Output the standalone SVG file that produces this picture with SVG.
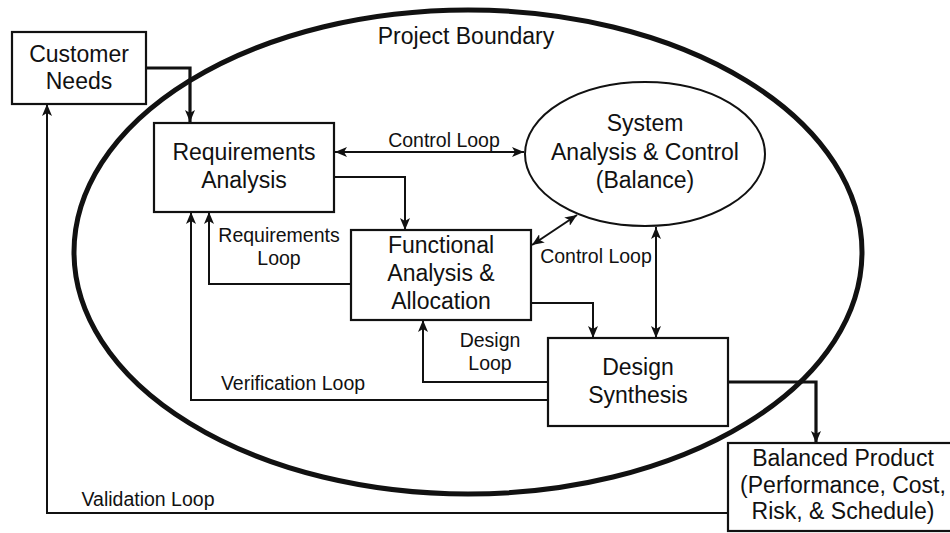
<svg xmlns="http://www.w3.org/2000/svg" width="950" height="533" viewBox="0 0 950 533">
  <style>
    .box { fill: #fff; stroke: #111; stroke-width: 2.2; }
    .t { font-family: "Liberation Sans", Arial, sans-serif; font-size: 23px; fill: #111; text-anchor: middle; }
    .lbl { font-family: "Liberation Sans", Arial, sans-serif; font-size: 19.5px; fill: #111; text-anchor: middle; }
    .ln { fill: none; stroke: #111; stroke-width: 2; }
    .thick { fill: none; stroke: #111; stroke-width: 3.2; }
  </style>
  <defs>
    <marker id="ah" markerUnits="userSpaceOnUse" markerWidth="12" markerHeight="10" refX="12" refY="5" orient="auto-start-reverse">
      <path d="M0,0 L12,5 L0,10 L3,5 z" fill="#111"/>
    </marker>
  </defs>

  <rect width="950" height="533" fill="#fff"/>

  <!-- project boundary -->
  <g id="boundary">
    <ellipse cx="468" cy="252" rx="394" ry="242" fill="none" stroke="#111" stroke-width="5"/>
    <text class="t" x="466" y="44">Project Boundary</text>
  </g>

  <!-- connectors -->
  <g id="connectors">
    <path class="thick" d="M146,68 H190 V122" marker-end="url(#ah)"/>
    <path class="ln" d="M335,152 H524" marker-start="url(#ah)" marker-end="url(#ah)"/>
    <path class="ln" d="M334,177 H405 V230" marker-end="url(#ah)"/>
    <path class="ln" d="M351,284 H209 V212" marker-end="url(#ah)"/>
    <path class="ln" d="M548,400 H191 V212" marker-end="url(#ah)"/>
    <path class="ln" d="M548,382 H423 V320" marker-end="url(#ah)"/>
    <path class="ln" d="M531,303 H593 V338" marker-end="url(#ah)"/>
    <path class="ln" d="M532,245 L577,215" marker-start="url(#ah)" marker-end="url(#ah)"/>
    <path class="ln" d="M656,227 V338" marker-start="url(#ah)" marker-end="url(#ah)"/>
    <path class="thick" d="M728,382 H816 V443" marker-end="url(#ah)"/>
    <path class="ln" d="M728,513 H47 V104" marker-end="url(#ah)"/>

    <text class="lbl" x="444" y="147">Control Loop</text>
    <text class="lbl" x="279" y="242">Requirements</text>
    <text class="lbl" x="279" y="265">Loop</text>
    <text class="lbl" x="596" y="263">Control Loop</text>
    <text class="lbl" x="490" y="347">Design</text>
    <text class="lbl" x="490" y="370">Loop</text>
    <text class="lbl" x="293" y="390">Verification Loop</text>
    <text class="lbl" x="148" y="506">Validation Loop</text>
  </g>

  <g id="customer-needs">
    <rect class="box" x="12" y="32" width="134" height="72"/>
    <text class="t" x="79" y="62">Customer</text>
    <text class="t" x="79" y="89">Needs</text>
  </g>

  <g id="requirements-analysis">
    <rect class="box" x="154" y="123" width="180" height="89"/>
    <text class="t" x="244" y="160">Requirements</text>
    <text class="t" x="244" y="188">Analysis</text>
  </g>

  <g id="system-analysis">
    <ellipse cx="645" cy="154" rx="120" ry="72" fill="#fff" stroke="#111" stroke-width="2"/>
    <text class="t" x="645" y="131">System</text>
    <text class="t" x="645" y="160">Analysis &amp; Control</text>
    <text class="t" x="645" y="188">(Balance)</text>
  </g>

  <g id="functional-analysis">
    <rect class="box" x="351" y="230" width="180" height="90"/>
    <text class="t" x="441" y="253">Functional</text>
    <text class="t" x="441" y="281">Analysis &amp;</text>
    <text class="t" x="441" y="309">Allocation</text>
  </g>

  <g id="design-synthesis">
    <rect class="box" x="548" y="338" width="180" height="88"/>
    <text class="t" x="638" y="375">Design</text>
    <text class="t" x="638" y="403">Synthesis</text>
  </g>

  <g id="balanced-product">
    <rect class="box" x="728" y="443" width="226" height="88"/>
    <text class="t" x="843" y="466">Balanced Product</text>
    <text class="t" x="843" y="493">(Performance, Cost,</text>
    <text class="t" x="843" y="519">Risk, &amp; Schedule)</text>
  </g>
</svg>
